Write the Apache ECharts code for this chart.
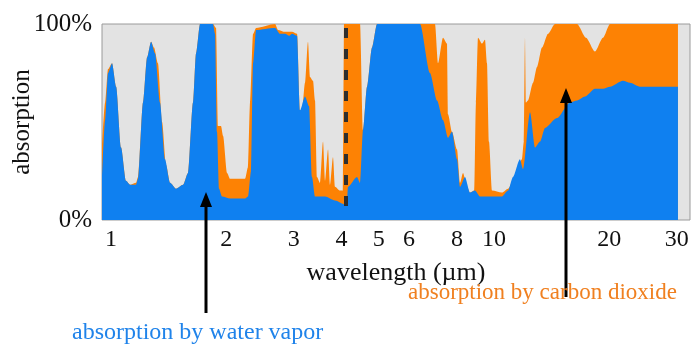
<!DOCTYPE html>
<html>
<head>
<meta charset="utf-8">
<script src="https://cdn.jsdelivr.net/npm/echarts@6/dist/echarts.min.js"></script>
<style>
    html, body { margin: 0; padding: 0; background: #fff; }
    #chart { width: 695px; height: 345px; }
</style>
</head>
<body>
<div id="chart"></div>
<script>
// wavelength in micrometres, absorption in percent
const waterWl = [0.947, 0.965, 0.982, 1.006, 1.031, 1.062, 1.094, 1.121, 1.162, 1.176,
    1.212, 1.242, 1.272, 1.303, 1.342, 1.383, 1.426, 1.478, 1.542, 1.589,
    1.637, 1.667, 1.708, 1.846, 1.869, 1.891, 1.914, 1.949, 2.046, 2.238,
    2.279, 2.321, 2.349, 2.392, 2.681, 2.763, 2.847, 2.92, 2.969, 3.06,
    3.116, 3.21, 3.29, 3.348, 3.409, 3.621, 3.844, 4.08, 4.13, 4.157,
    4.388, 4.469, 4.55, 4.661, 4.803, 4.95, 6.41, 6.806, 7.099, 7.36,
    7.585, 7.77, 8.007, 8.152, 8.401, 8.658, 8.921, 9.193, 9.881, 10.49,
    10.88, 11.21, 11.69, 11.91, 12.42, 12.8, 13.19, 13.59, 14.6, 15.79,
    16.48, 17.29, 18.35, 19.26, 20.09, 21.72, 22.65, 24.06, 30.23];
const waterPct = [20, 51, 75, 80, 68, 37, 20, 18, 18, 21,
    60, 83, 91, 85, 60, 31, 19, 16, 18, 24,
    60, 85, 100, 100, 95, 45, 16, 12, 11, 11,
    12, 25, 80, 97, 98, 95, 95, 94, 95, 94,
    56, 63, 58, 22, 12, 12, 10, 8, 9, 17,
    22, 19, 46, 68, 88, 100, 100, 75, 61, 51,
    42, 45, 31, 17, 22, 14, 15, 12, 12, 12,
    15, 22, 31, 26, 55, 37, 40, 47, 52, 60,
    61, 63, 67, 67, 68, 71, 70, 68, 68];

// water vapor + carbon dioxide together
const totalWl = [0.947, 0.965, 0.982, 1.006, 1.031, 1.062, 1.094, 1.121, 1.162, 1.176,
    1.212, 1.242, 1.272, 1.295, 1.326, 1.359, 1.392, 1.426, 1.478, 1.542,
    1.589, 1.637, 1.667, 1.708, 1.846, 1.88, 1.903, 1.937, 1.961, 2.009,
    2.046, 2.238, 2.279, 2.307, 2.349, 2.392, 2.681, 2.73, 2.847, 2.969,
    3.06, 3.116, 3.153, 3.21, 3.268, 3.308, 3.368, 3.409, 3.45, 3.513,
    3.577, 3.621, 3.687, 3.731, 3.798, 3.844, 3.962, 4.034, 4.058, 4.469,
    4.55, 4.661, 4.803, 4.95, 7.014, 7.142, 7.36, 7.539, 7.585, 7.77,
    8.007, 8.152, 8.301, 8.503, 8.658, 8.88, 8.975, 9.083, 9.304, 9.473,
    9.588, 9.704, 9.881, 10.49, 10.88, 11.34, 11.83, 11.97, 12.05, 12.12,
    12.27, 12.65, 12.95, 13.35, 13.84, 14.43, 16.48, 17.39, 18.35, 19.26,
    20.09, 30.23];
const totalPct = [38, 60, 77, 80, 68, 37, 20, 18, 19, 22,
    60, 83, 91, 88, 80, 50, 28, 19, 16, 18,
    24, 60, 85, 100, 100, 98, 48, 48, 43, 24,
    21, 21, 27, 60, 95, 98, 100, 97, 96, 96,
    95, 56, 56, 70, 91, 73, 71, 61, 22, 19,
    40, 20, 36, 18, 32, 17, 15, 15, 100, 100,
    46, 68, 88, 100, 100, 80, 93, 90, 54, 45,
    36, 19, 24, 17, 14, 15, 60, 93, 90, 92,
    80, 40, 15, 14, 16, 22, 31, 40, 93, 60,
    61, 70, 78, 88, 95, 100, 100, 93, 86, 93,
    100, 100];

const tickWl = [1, 2, 3, 4, 5, 6, 8, 10, 20, 30];
const yTicks = [0, 100];
const co2Line = 4.1;
const wlMin = 0.947;
const wlMax = 32.5;

const serif = 'Liberation Serif';

function toPoints(wl, pct) {
    return wl.map((w, i) => [Math.log10(w), pct[i]]);
}

const chart = echarts.init(document.getElementById('chart'));

const option = {
    animation: false,
    grid: {
        left: 102,
        right: 5,
        top: 24,
        bottom: 125,
        outerBoundsMode: 'none',
        show: true,
        backgroundColor: '#e3e3e3',
        borderColor: '#9a9a9a',
        borderWidth: 1
    },
    xAxis: {
        type: 'value',
        min: Math.log10(wlMin),
        max: Math.log10(wlMax),
        name: 'wavelength (\u00b5m)',
        nameLocation: 'middle',
        nameGap: 40,
        nameMoveOverlap: false,
        nameTextStyle: {
            fontFamily: serif,
            fontSize: 26,
            color: '#111'
        },
        axisLine: { show: false },
        axisTick: { show: false },
        splitLine: { show: false },
        axisLabel: {
            customValues: tickWl.map(v => Math.log10(v)),
            formatter: function(v) {
                return String(Math.round(Math.pow(10, v)));
            },
            margin: 8,
            fontFamily: serif,
            fontSize: 24,
            color: '#111'
        }
    },
    yAxis: {
        type: 'value',
        min: 0,
        max: 100,
        name: 'absorption',
        nameLocation: 'middle',
        nameGap: 67,
        nameMoveOverlap: false,
        nameTextStyle: {
            fontFamily: serif,
            fontSize: 25,
            color: '#111'
        },
        axisLine: { show: false },
        axisTick: { show: false },
        splitLine: { show: false },
        axisLabel: {
            customValues: yTicks,
            formatter: '{value}%',
            margin: 10,
            fontFamily: serif,
            fontSize: 25,
            color: '#111'
        }
    },
    series: [
        {
            name: 'carbon dioxide',
            type: 'line',
            data: toPoints(totalWl, totalPct),
            showSymbol: false,
            smooth: 0.25,
            smoothMonotone: 'x',
            lineStyle: { width: 0 },
            areaStyle: { color: '#fd8204', opacity: 1 },
            z: 2,
            markLine: {
                silent: true,
                symbol: 'none',
                label: { show: false },
                lineStyle: {
                    color: '#2e2e2e',
                    width: 4,
                    type: [10, 11]
                },
                data: [[
                    { coord: [Math.log10(co2Line), 98] },
                    { coord: [Math.log10(co2Line), 6] }
                ]]
            }
        },
        {
            name: 'water vapor',
            type: 'line',
            data: toPoints(waterWl, waterPct),
            showSymbol: false,
            smooth: 0.25,
            smoothMonotone: 'x',
            lineStyle: { width: 0 },
            areaStyle: { color: '#0f80f0', opacity: 1 },
            z: 3
        }
    ],
    graphic: [
        // arrow to water vapor band
        { type: 'line', shape: { x1: 206, y1: 313, x2: 206, y2: 204 }, style: { stroke: '#000', lineWidth: 3 }, z: 100 },
        { type: 'polygon', shape: { points: [[206, 192], [200, 207], [212, 207]] }, style: { fill: '#000' }, z: 100 },
        // arrow to carbon dioxide band
        { type: 'line', shape: { x1: 566, y1: 297, x2: 566, y2: 100 }, style: { stroke: '#000', lineWidth: 3 }, z: 100 },
        { type: 'polygon', shape: { points: [[566, 88], [560, 103], [572, 103]] }, style: { fill: '#000' }, z: 100 },
        {
            type: 'text',
            left: 72,
            top: 321,
            style: {
                text: 'absorption by water vapor',
                fontFamily: serif,
                fontSize: 24,
                fill: '#1f83ea'
            },
            z: 100
        },
        {
            type: 'text',
            left: 408,
            top: 281,
            style: {
                text: 'absorption by carbon dioxide',
                fontFamily: serif,
                fontSize: 23,
                fill: '#f08020'
            },
            z: 100
        }
    ]
};

chart.setOption(option);
</script>
</body>
</html>
